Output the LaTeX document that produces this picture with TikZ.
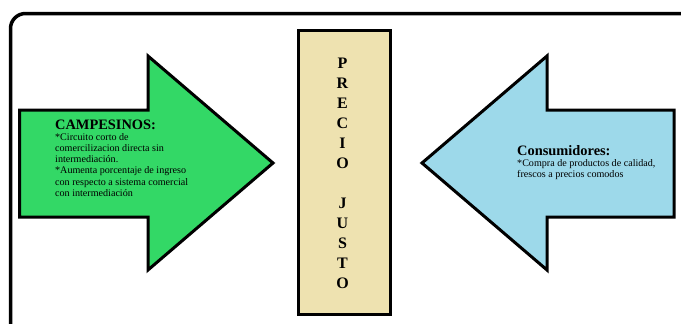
\documentclass[tikz,border=0pt]{standalone}
\usepackage{fontspec}
\setmainfont{Liberation Serif}
\definecolor{grn}{HTML}{33D866}
\definecolor{blu}{HTML}{9DD9EA}
\definecolor{tan}{HTML}{EEE2B0}
\tikzset{
  arrowshape/.style={draw=black, line width=3pt, line join=miter},
  titletext/.style={anchor=base west, inner sep=0pt, font=\fontsize{14.4}{16}\selectfont\bfseries},
  bodytext/.style={anchor=north west, inner sep=0pt, align=left, font=\fontsize{10.1}{11.2}\selectfont},
}
\begin{document}
\begin{tikzpicture}[x=1pt,y=-1pt]
\clip (0,0) rectangle (681,324);
\fill[white] (0,0) rectangle (681,324);
% frame
\draw[line width=3.5pt, rounded corners=15pt] (10.5,360) -- (10.5,13.5) -- (720,13.5);
% green arrow
\draw[arrowshape, fill=grn] (19.5,110) -- (148,110) -- (148,56) -- (273,163) -- (148,270) -- (148,217) -- (19.5,217) -- cycle;
% blue arrow
\draw[arrowshape, fill=blu] (422,163) -- (547,56) -- (547,110) -- (674,110) -- (674,217) -- (547,217) -- (547,270) -- cycle;
% price box
\node[draw=black, line width=3pt, fill=tan, minimum width=92pt, minimum height=284pt, inner sep=0pt] (box) at (344.5,172.5) {};
\node[align=center, inner sep=0pt, font=\fontsize{16}{20}\selectfont\bfseries] (precio) at (342.5,173) {P\\R\\E\\C\\I\\O\\[20pt]J\\U\\S\\T\\O};
% texts
\node[titletext] (camp) at (55,129) {CAMPESINOS:};
\node[bodytext] (campbody) at (55,133) {*Circuito corto de\\comercilizacion directa sin\\intermediación.\\*Aumenta porcentaje de ingreso\\con respecto a sistema comercial\\con intermediación};
\node[titletext] (cons) at (517,155) {Consumidores:};
\node[bodytext] (consbody) at (517,159) {*Compra de productos de calidad,\\frescos a precios comodos};
\end{tikzpicture}
\end{document}
